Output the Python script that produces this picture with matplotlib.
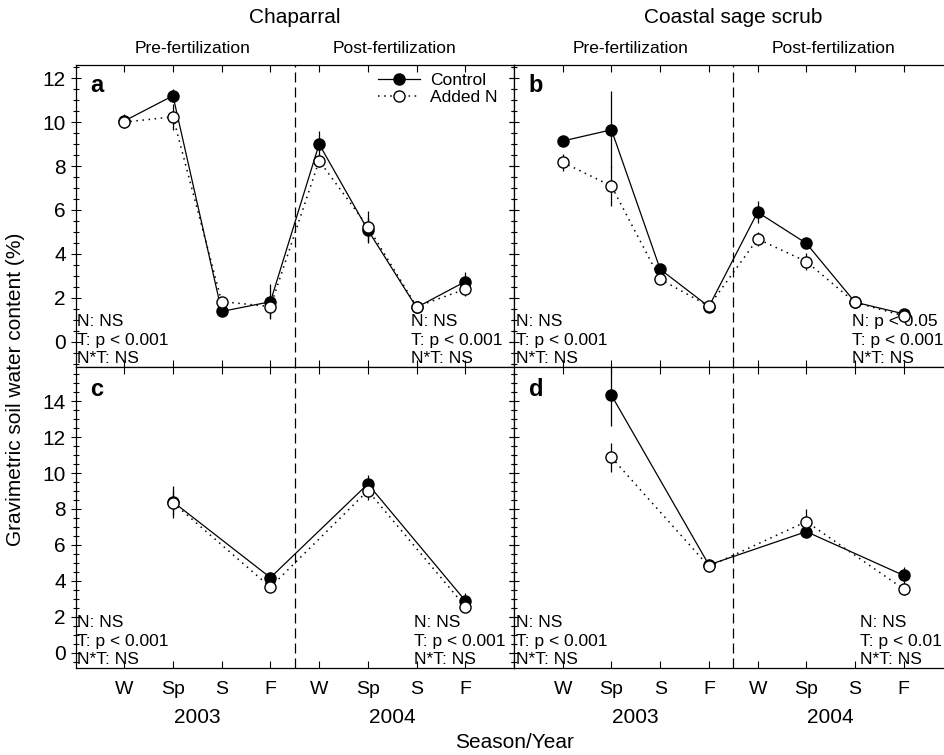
import numpy as np
import matplotlib
matplotlib.use("Agg")
from matplotlib import pyplot as plt
from matplotlib.ticker import MultipleLocator
from matplotlib.lines import Line2D
from matplotlib.transforms import blended_transform_factory

plt.rcParams['font.family'] = ['Liberation Sans', 'DejaVu Sans']

# seasons W, Sp, S, F for 2003 then 2004
seasons = ["W", "Sp", "S", "F", "W", "Sp", "S", "F"]
years = ["2003", "2004"]
nan = np.nan

# panel a - chaparral, top
a_ctrl = [10.05, 11.2, 1.38, 1.82, 9.0, 5.09, 1.56, 2.74]
a_ctrl_se = [0.3, 0.3, 0.2, 0.8, 0.6, 0.6, 0.25, 0.45]
a_addn = [10.0, 10.24, 1.83, 1.6, 8.24, 5.24, 1.6, 2.39]
a_addn_se = [0.25, 0.6, 0.2, 0.5, 0.3, 0.7, 0.2, 0.3]

# panel b - coastal sage scrub, top
b_ctrl = [9.14, 9.65, 3.3, 1.6, 5.9, 4.48, 1.8, 1.27]
b_ctrl_se = [0.2, 1.75, 0.2, 0.15, 0.5, 0.2, 0.15, 0.2]
b_addn = [8.17, 7.09, 2.85, 1.62, 4.68, 3.65, 1.79, 1.18]
b_addn_se = [0.4, 0.9, 0.2, 0.15, 0.3, 0.4, 0.15, 0.2]

# panel c - chaparral, bottom
c_ctrl = [nan, 8.4, nan, 4.18, nan, 9.39, nan, 2.9]
c_ctrl_se = [nan, 0.9, nan, 0.3, nan, 0.5, nan, 0.4]
c_addn = [nan, 8.35, nan, 3.65, nan, 9.02, nan, 2.57]
c_addn_se = [nan, 0.7, nan, 0.2, nan, 0.5, nan, 0.3]

# panel d - coastal sage scrub, bottom
d_ctrl = [nan, 14.33, nan, 4.89, nan, 6.74, nan, 4.3]
d_ctrl_se = [nan, 1.7, nan, 0.3, nan, 0.3, nan, 0.45]
d_addn = [nan, 10.87, nan, 4.8, nan, 7.3, nan, 3.54]
d_addn_se = [nan, 0.8, nan, 0.3, nan, 0.7, nan, 0.3]

stats_left = {
    "a": "N: NS\nT: p < 0.001\nN*T: NS",
    "b": "N: NS\nT: p < 0.001\nN*T: NS",
    "c": "N: NS\nT: p < 0.001\nN*T: NS",
    "d": "N: NS\nT: p < 0.001\nN*T: NS",
}
stats_right = {
    "a": "N: NS\nT: p < 0.001\nN*T: NS",
    "b": "N: p < 0.05\nT: p < 0.001\nN*T: NS",
    "c": "N: NS\nT: p < 0.001\nN*T: NS",
    "d": "N: NS\nT: p < 0.01\nN*T: NS",
}
stats_right_x = {"a": 6.88, "b": 6.94, "c": 6.94, "d": 7.1}

x = np.arange(1, 9)

fig = plt.figure(figsize=(9.44, 7.55), dpi=100)
W_AX = 0.4645
ax_a = fig.add_axes([0.080, 0.5139, W_AX, 0.400])
ax_b = fig.add_axes([0.5445, 0.5139, W_AX, 0.400])
ax_c = fig.add_axes([0.080, 0.1152, W_AX, 0.3987])
ax_d = fig.add_axes([0.5445, 0.1152, W_AX, 0.3987])

panels = [
    (ax_a, "a", a_ctrl, a_ctrl_se, a_addn, a_addn_se),
    (ax_b, "b", b_ctrl, b_ctrl_se, b_addn, b_addn_se),
    (ax_c, "c", c_ctrl, c_ctrl_se, c_addn, c_addn_se),
    (ax_d, "d", d_ctrl, d_ctrl_se, d_addn, d_addn_se),
]

for ax, letter, ctrl, ctrl_se, addn, addn_se in panels:
    ctrl = np.array(ctrl); ctrl_se = np.array(ctrl_se)
    addn = np.array(addn); addn_se = np.array(addn_se)
    m = ~np.isnan(ctrl)
    n = ~np.isnan(addn)

    ax.axvline(4.5, color="black", lw=0.9, ls=(0, (8, 4)), zorder=1)

    # error bars first, then lines and markers on top
    ax.errorbar(x[m], ctrl[m], yerr=ctrl_se[m], fmt="none", ecolor="black", elinewidth=0.9, capsize=0, zorder=2)
    ax.errorbar(x[n], addn[n], yerr=addn_se[n], fmt="none", ecolor="black", elinewidth=0.9, capsize=0, zorder=2)
    ax.plot(x[n], addn[n], ls=(0, (1, 3)), color="black", lw=1.1, zorder=3)
    ax.plot(x[m], ctrl[m], ls="-", color="black", lw=0.9, zorder=3)
    ax.plot(x[m], ctrl[m], "o", ms=8, mfc="black", mec="black", mew=1, zorder=4)
    ax.plot(x[n], addn[n], "o", ms=8, mfc="white", mec="black", mew=1, zorder=5)

    ax.set_xlim(0, 9)
    ax.set_xticks(x)
    ax.yaxis.set_major_locator(MultipleLocator(2))
    ax.yaxis.set_minor_locator(MultipleLocator(0.5))
    ax.tick_params(axis="x", direction="in", top=True, bottom=True, length=5, width=0.8, labelsize=14)
    ax.tick_params(axis="y", which="major", direction="inout", left=True, right=True, length=7, width=0.8, labelsize=15)
    ax.tick_params(axis="y", which="minor", direction="inout", left=True, right=True, length=5, width=0.8)
    for s in ax.spines.values():
        s.set_linewidth(0.9)

    tr = blended_transform_factory(ax.transData, ax.transAxes)
    ax.text(0.3, 0.97 if letter in "ab" else 0.965, letter, transform=tr,
            fontsize=17, fontweight="bold", ha="left", va="top")
    ax.text(0.04, 0.003, stats_left[letter], transform=tr,
            fontsize=12.5, ha="left", va="bottom", linespacing=1.28)
    ax.text(stats_right_x[letter], 0.003, stats_right[letter], transform=tr,
            fontsize=12.5, ha="left", va="bottom", linespacing=1.28)

for ax in (ax_a, ax_b):
    ax.set_ylim(-1.15, 12.6)
    ax.tick_params(axis="x", labelbottom=False)
for ax in (ax_c, ax_d):
    ax.set_ylim(-0.85, 15.9)
    ax.set_xticklabels(seasons)
    ax.tick_params(axis="x", pad=9)
    tr = blended_transform_factory(ax.transData, ax.transAxes)
    ax.text(2.5, -0.163, years[0], transform=tr, ha="center", va="center", fontsize=15)
    ax.text(6.5, -0.163, years[1], transform=tr, ha="center", va="center", fontsize=15)
for ax in (ax_b, ax_d):
    ax.tick_params(axis="y", labelleft=False)

# headers above the top row
for ax, title in ((ax_a, "Chaparral"), (ax_b, "Coastal sage scrub")):
    tr = blended_transform_factory(ax.transData, ax.transAxes)
    ax.text(4.5, 1.156, title, transform=tr, ha="center", va="center", fontsize=15)
    ax.text(2.4, 1.056, "Pre-fertilization", transform=tr, ha="center", va="center", fontsize=12.5)
    ax.text(6.55, 1.056, "Post-fertilization", transform=tr, ha="center", va="center", fontsize=12.5)

# legend in panel a
handles = [
    Line2D([], [], ls="-", color="black", lw=0.9, marker="o", ms=8, mfc="black", mec="black"),
    Line2D([], [], ls=(0, (1, 3)), color="black", lw=1.1, marker="o", ms=8, mfc="white", mec="black"),
]
ax_a.legend(handles, ["Control", "Added N"], loc="upper left", bbox_to_anchor=(0.69, 0.975), frameon=False,
            fontsize=12.5, handlelength=2.4, handletextpad=0.6, labelspacing=0.15, borderpad=0, borderaxespad=0)

fig.text(0.016, 0.485, "Gravimetric soil water content (%)", rotation=90, ha="center", va="center", fontsize=15)
fig.text(0.545, 0.016, "Season/Year", ha="center", va="center", fontsize=15)

fig.savefig("out.png", dpi=100)
